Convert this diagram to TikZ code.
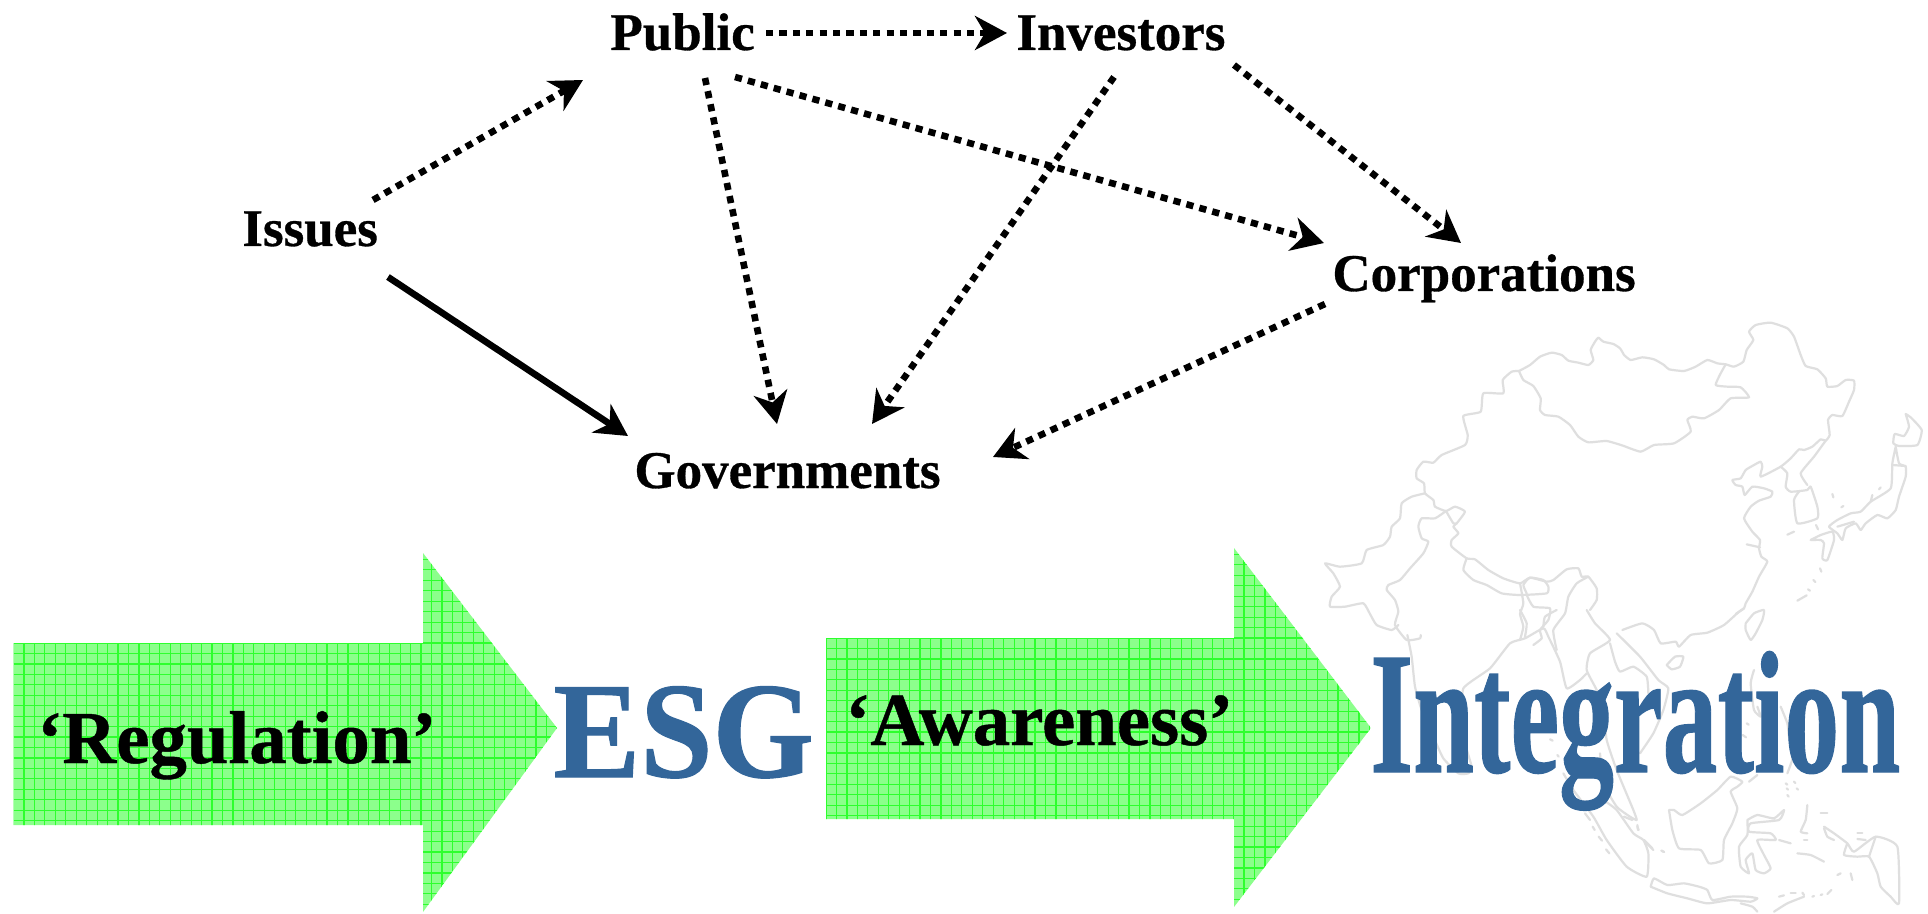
\documentclass[tikz,border=0pt]{standalone}
\usepackage{fontspec}
\usepackage{graphicx}
\setmainfont{Liberation Serif}
\newfontfamily\heavyserif[BoldFeatures={FakeBold=0.8}]{Liberation Serif}
\newfontfamily\midserif[BoldFeatures={FakeBold=0.6}]{Liberation Serif}
\usetikzlibrary{arrows.meta}
\definecolor{esgblue}{HTML}{33669A}
\definecolor{mapgray}{HTML}{DFDFDF}
\definecolor{arrowfill}{HTML}{8CFF8C}
\definecolor{arrowgrid}{HTML}{2EFF2E}
\tikzset{
  mapline/.style={draw=mapgray,line width=1.1pt,line join=round,line cap=round},
  tile/.style={x=0.166667pt,y=-0.166667pt},
  actor/.style={anchor=base west,inner sep=0pt,font=\midserif\bfseries\fontsize{26.5}{30}\selectfont},
  flowword/.style={anchor=base west,inner sep=0pt,font=\midserif\bfseries\fontsize{37.4}{40}\selectfont},
  bigword/.style={anchor=base west,inner sep=0pt,text=esgblue},
  headtip/.style={-{Stealth[length=16pt,width=17pt,inset=5pt]}},
  dotlink/.style={draw=black,line width=3.3pt,dash pattern=on 3.6pt off 3.1pt,headtip},
  solidlink/.style={draw=black,line width=3.3pt,headtip},
  gridline/.style={draw=arrowgrid,line width=0.6pt}
}
\newcommand{\mapl}[1]{\draw[mapline] plot[smooth,tension=.3] coordinates {#1};}
% left, shoulder, body top, body bottom, head top, head bottom, tip x, tip y
\newcommand{\gridarrow}[8]{%
  \begin{scope}
    \clip (#1,#3) -- (#2,#3) -- (#2,#5) -- (#7,#8) -- (#2,#6) -- (#2,#4) -- (#1,#4) -- cycle;
    \fill[arrowfill] (#1,#5) rectangle (#7,#6);
    \foreach \i in {0,...,54} {\draw[gridline] ({#1+\i*10.45},#5) -- ({#1+\i*10.45},#6);}
    \foreach \j in {-10,...,25} {\draw[gridline] (#1,{#3+\j*10.45}) -- (#7,{#3+\j*10.45});}
  \end{scope}}
\begin{document}
\begin{tikzpicture}[x=0.5pt,y=-0.5pt]
\useasboundingbox (0,0) rectangle (1928,914);
\fill[white] (0,0) rectangle (1928,914);

% ---------- map ----------
\begin{scope}[shift={(1320,310)},tile]
\mapl{(597,183)(630,165)(660,140)(695,128)(725,135)(745,152)(775,158)(805,165)(820,150)(812,120)(825,95)(835,83)(850,95)(880,102)(900,115)(912,135)}
\mapl{(597,183)(610,210)(640,228)(662,265)(660,300)(675,315)(715,320)(750,345)(775,380)(805,397)(860,393)(912,408)}
\mapl{(597,183)(575,185)(548,210)(550,250)(490,250)(482,305)(430,318)(443,375)(435,405)(365,435)(340,458)(310,455)(290,480)(290,505)(312,520)(315,550)(340,570)(345,590)(378,603)(405,590)(435,605)(410,640)(400,650)(415,670)(395,690)(395,710)(440,745)(465,748)(505,780)(550,805)(600,820)(630,803)(680,815)(700,810)(740,778)(775,775)(785,800)(805,800)(830,835)(830,870)(810,900)}
\mapl{(315,550)(275,560)(245,580)(240,625)(215,650)(210,680)(190,705)(140,720)(125,760)(60,770)(15,760)(40,790)(60,830)(35,860)(30,890)(75,890)(130,880)(150,912)(170,945)(215,960)(235,945)}
\mapl{(378,603)(345,625)(305,625)(295,650)(305,685)(325,695)(310,730)(270,775)(240,810)(205,825)(200,840)(225,870)(235,905)(225,945)(260,990)(300,985)(302,975)}
\mapl{(378,603)(400,640)(410,640)}
\mapl{(440,745)(430,780)(460,810)(500,825)(545,850)(600,855)(680,850)(685,830)(670,810)(630,803)(610,825)(620,850)}
\mapl{(600,820)(610,880)(600,912)(610,950)(600,990)}
\mapl{(620,855)(640,890)(690,895)(685,930)(660,960)(665,985)(640,1005)}
\mapl{(805,800)(770,820)(745,860)(735,910)(700,960)(710,1020)}
\end{scope}

\begin{scope}[shift={(1624,310)},tile]
\mapl{(0,135)(20,150)(55,142)(90,148)(120,165)(135,178)(180,183)(215,170)(250,150)(280,160)(305,163)(330,170)(358,155)(368,120)(388,90)(375,65)(395,45)(440,38)(490,55)(510,80)(530,135)(545,168)(580,178)(605,205)(610,230)(640,228)(665,210)(690,212)(690,240)(675,275)(655,318)(625,315)(612,330)(617,375)(605,392)(590,388)(565,410)(540,420)(525,418)(500,445)(470,470)(410,500)(415,470)(410,455)(390,465)(365,480)(350,505)(325,510)(335,525)(355,530)(362,555)(385,530)(420,535)(445,545)(440,560)(405,572)(380,590)(360,625)(385,665)(408,690)(405,715)(412,740)(430,755)(405,800)(385,845)(365,880)(360,895)(335,912)}
\mapl{(0,408)(50,425)(90,405)(150,400)(200,365)(190,330)(205,320)(240,325)(285,300)(320,265)(375,262)(350,232)(310,230)(275,225)(290,190)(305,163)}
\mapl{(470,470)(490,490)(485,530)(500,545)(550,540)(560,530)(580,590)(580,625)(520,640)(510,570)(525,545)}
\mapl{(605,392)(570,440)(530,490)(550,525)}
\mapl{(368,703)(408,712)}
\mapl{(845,312)(860,322)(893,360)(880,405)(825,408)(808,400)(812,372)(840,378)(855,350)(845,312)}
\mapl{(815,410)(825,460)(845,470)(845,500)(825,560)(815,600)(790,625)(760,615)(725,640)(710,660)(695,640)(665,655)(655,690)(640,670)(615,650)(640,630)(680,610)(710,605)(740,575)(800,535)(805,460)(815,410)}
\mapl{(805,465)(845,468)}
\mapl{(640,650)(690,635)}
\mapl{(560,690)(590,675)(625,665)(630,690)(610,750)(595,745)(600,700)(590,690)(560,690)}
\mapl{(490,674)(510,665)}
\mapl{(576,645)(582,658)}
\mapl{(625,552)(628,562)}
\mapl{(652,592)(658,588)}
\mapl{(588,775)(592,785)}
\mapl{(568,810)(574,816)}
\mapl{(552,838)(558,842)}
\mapl{(520,872)(548,856)}
\mapl{(745,555)(740,575)}
\mapl{(765,538)(770,532)}
\end{scope}

\begin{scope}[shift={(1400,610)},tile]
\mapl{(22,75)(35,140)(45,230)(65,300)(100,380)(130,445)(175,490)(205,490)(215,470)(195,400)(190,330)(190,235)(270,175)(330,100)(375,85)(430,55)(445,80)(480,155)(500,235)(540,210)(560,190)}
\mapl{(360,0)(380,40)(375,80)}
\mapl{(430,50)(435,20)(470,0)}
\mapl{(560,0)(585,40)(630,90)(570,130)(560,180)(590,240)(610,300)(620,390)(650,480)(700,600)(710,630)(690,620)(650,590)(610,520)(600,430)}
\mapl{(630,100)(645,155)(660,185)(700,170)(740,200)(745,250)}
\mapl{(650,70)(720,140)(775,210)(805,235)(790,300)(760,370)(720,430)}
\mapl{(800,165)(825,140)(850,140)(840,170)(815,178)(800,165)}
\mapl{(490,490)(520,540)(580,620)(620,690)(680,770)(740,800)(745,730)(730,690)(700,670)(650,600)(610,570)}
\mapl{(555,610)(570,630)}
\mapl{(578,650)(584,660)}
\mapl{(596,680)(606,692)}
\mapl{(618,718)(628,730)}
\mapl{(450,388)(458,392)}
\mapl{(472,435)(476,440)}
\mapl{(712,650)(716,660)}
\mapl{(735,695)(760,720)}
\mapl{(785,722)(792,726)}
\end{scope}

\begin{scope}[shift={(1624,610)},tile]
\mapl{(-5,60)(55,40)(90,60)(110,100)(155,95)(165,110)(200,75)(250,68)(300,45)(345,5)(360,-5)}
\mapl{(365,40)(390,10)(420,0)(415,30)(395,70)(380,90)(365,60)(365,40)}
\mapl{(80,830)(90,805)(130,825)(180,820)(225,830)(250,840)(265,870)(320,860)(370,860)(400,865)(380,875)(320,870)(250,880)(190,865)(130,850)(80,830)}
\mapl{(135,600)(150,600)(175,615)(230,580)(280,540)(320,500)(355,515)(340,530)(320,545)(340,595)(325,640)(300,690)(295,750)(255,760)(230,720)(165,715)(145,660)(135,600)}
\mapl{(370,630)(400,615)(450,625)(480,600)(465,630)(380,640)(375,665)(440,670)(455,690)(400,690)(420,735)(440,775)(420,790)(395,780)(385,730)(365,750)(375,790)(350,770)(345,710)(370,675)(370,630)}
\mapl{(600,650)(630,670)(670,700)(690,725)(755,680)(820,710)(825,880)(800,860)(770,830)(760,790)(735,740)(700,740)(660,735)(670,700)}
\mapl{(755,680)(735,740)}
\mapl{(390,180)(380,220)(390,300)(410,320)(400,290)}
\mapl{(470,290)(490,340)(495,380)(510,430)(490,490)}
\mapl{(485,520)(490,524)}
\mapl{(510,515)(514,519)}
\mapl{(518,535)(522,539)}
\mapl{(488,535)(492,539)}
\mapl{(490,555)(494,560)}
\mapl{(375,515)(400,495)}
\mapl{(368,340)(374,344)}
\mapl{(356,375)(366,382)}
\mapl{(550,585)(545,630)(530,665)(550,670)}
\mapl{(590,610)(610,610)}
\mapl{(600,655)(610,680)(630,690)}
\mapl{(465,690)(500,700)}
\mapl{(520,730)(560,735)(600,755)}
\mapl{(540,690)(550,690)}
\mapl{(640,795)(650,790)}
\mapl{(680,790)(685,810)}
\mapl{(700,670)(715,670)}
\mapl{(700,687)(725,690)}
\mapl{(465,860)(480,856)}
\mapl{(500,850)(515,850)}
\mapl{(535,848)(540,855)}
\mapl{(565,860)(570,858)}
\mapl{(590,855)(595,853)}
\mapl{(610,852)(622,840)}
\mapl{(450,905)(490,880)(540,860)}
\mapl{(350,880)(385,890)(400,905)}
\mapl{(112,722)(120,726)}
\mapl{(40,645)(42,660)}
\mapl{(0,620)(25,630)}
\mapl{(60,690)(85,715)}
\end{scope}

% ---------- block arrows ----------
\gridarrow{13.5}{423}{643}{825}{553}{912}{557}{728}
\gridarrow{826}{1234}{638}{819}{548}{907}{1371}{728}

% ---------- words on the arrows ----------
\node[flowword] (reg) at (37,763) {‘Regulation’};
\node[flowword] (awa) at (845,745) {‘Awareness’};
\node[bigword] (esg) at (553,777) {\heavyserif\bfseries\fontsize{68.5}{70}\selectfont\scalebox{.95}[1]{ESG}};
\node[bigword] (integ) at (1370,772) {\heavyserif\bfseries\fontsize{87}{90}\selectfont\scalebox{.63}[1]{Integration}};

% ---------- actors ----------
\node[actor] (issues) at (242,246) {Issues};
\node[actor] (public) at (610,50) {Public};
\node[actor] (investors) at (1016,50) {Investors};
\node[actor] (corps) at (1332,291) {Corporations};
\node[actor] (govs) at (634,488) {Governments};

% ---------- links ----------
\draw[dotlink] ([shift={(131,-46)}]issues.base west) -- ([shift={(-27,30)}]public.base west);
\draw[dotlink] ([shift={(156,-17)}]public.base west) -- ([shift={(-9,-17)}]investors.base west);
\draw[dotlink] ([shift={(95,28)}]public.base west) -- ([shift={(143,-64)}]govs.base west);
\draw[dotlink] ([shift={(125,27)}]public.base west) -- ([shift={(-8,-48)}]corps.base west);
\draw[dotlink] ([shift={(98,27)}]investors.base west) -- ([shift={(238,-64)}]govs.base west);
\draw[dotlink] ([shift={(218,15)}]investors.base west) -- ([shift={(129,-48)}]corps.base west);
\draw[dotlink] ([shift={(-7,13)}]corps.base west) -- ([shift={(359,-31)}]govs.base west);
\draw[solidlink] ([shift={(146,31)}]issues.base west) -- ([shift={(-6,-52)}]govs.base west);
\end{tikzpicture}
\end{document}
